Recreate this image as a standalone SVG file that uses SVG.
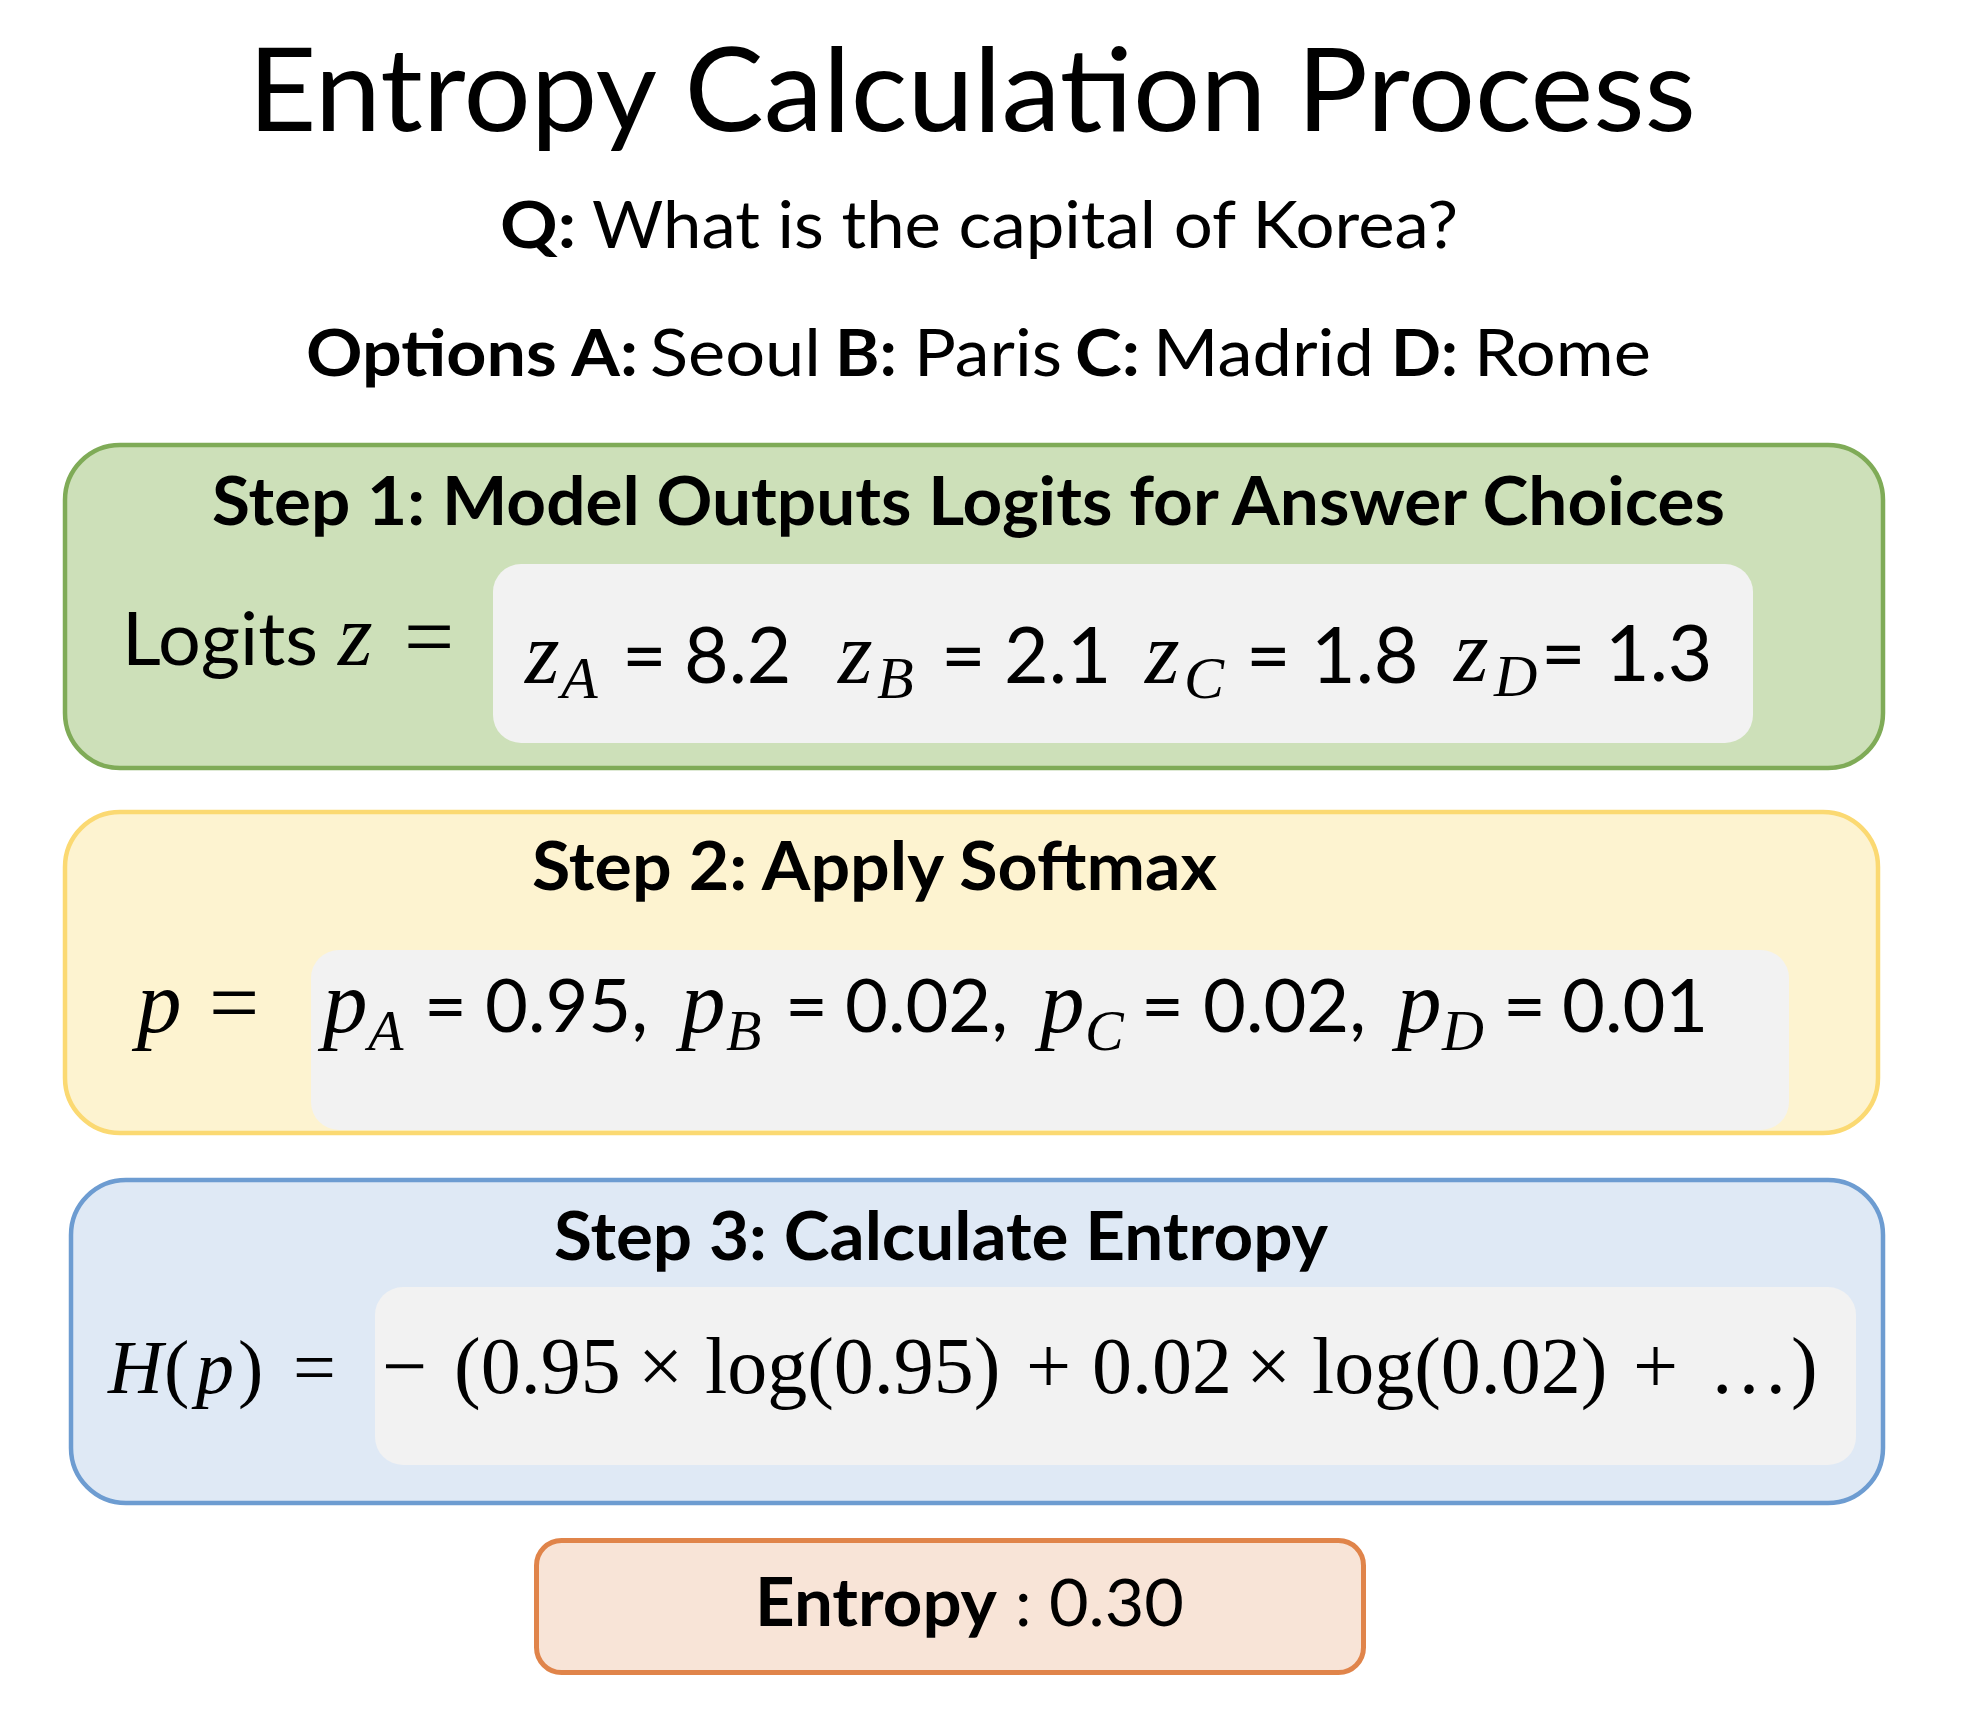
<svg xmlns="http://www.w3.org/2000/svg" width="1972" height="1728" viewBox="0 0 1972 1728">
<style>
.sans{font-family:Lato,"Liberation Sans",sans-serif;fill:#000}
.b{font-weight:700}
.m{font-family:"Liberation Serif","DejaVu Serif",serif;fill:#000}
.i{font-style:italic}
.gray{fill:#f2f2f2}
</style>
<rect width="1972" height="1728" fill="#fff"/>
<g id="header">
<text class="sans" x="248" y="131" font-size="116" textLength="1448" lengthAdjust="spacingAndGlyphs">Entropy Calculation Process</text>
<text class="sans b" x="500" y="248" font-size="65" textLength="76" lengthAdjust="spacingAndGlyphs">Q:</text>
<text class="sans" x="592" y="248" font-size="65" textLength="866" lengthAdjust="spacingAndGlyphs">What is the capital of Korea?</text>
<text class="sans b" x="306" y="376" font-size="65" textLength="332" lengthAdjust="spacingAndGlyphs">Options A:</text>
<text class="sans" x="650" y="376" font-size="65" textLength="171" lengthAdjust="spacingAndGlyphs">Seoul</text>
<text class="sans b" x="835" y="376" font-size="65" textLength="62" lengthAdjust="spacingAndGlyphs">B:</text>
<text class="sans" x="914" y="376" font-size="65" textLength="148" lengthAdjust="spacingAndGlyphs">Paris</text>
<text class="sans b" x="1075" y="376" font-size="65" textLength="65" lengthAdjust="spacingAndGlyphs">C:</text>
<text class="sans" x="1153" y="376" font-size="65" textLength="221" lengthAdjust="spacingAndGlyphs">Madrid</text>
<text class="sans b" x="1391" y="376" font-size="65" textLength="67" lengthAdjust="spacingAndGlyphs">D:</text>
<text class="sans" x="1474" y="376" font-size="65" textLength="177" lengthAdjust="spacingAndGlyphs">Rome</text>
</g>
<g id="connectors"></g>
<g id="step1">
<rect x="65" y="445" width="1818" height="323" rx="55" fill="#cde0b9" stroke="#7fab57" stroke-width="4.5"/>
<text class="sans b" x="212" y="525" font-size="66" textLength="1513" lengthAdjust="spacingAndGlyphs">Step 1: Model Outputs Logits for Answer Choices</text>
<rect class="gray" x="493" y="564" width="1260" height="179" rx="28"/>
<text class="sans" x="122" y="665" font-size="74" textLength="196" lengthAdjust="spacingAndGlyphs">Logits</text>
<text class="m" y="665" font-size="89"><tspan class="i" x="338">z</tspan><tspan x="404" y="666">=</tspan></text>
<text class="m i"><tspan x="525" y="683" font-size="89">z</tspan><tspan x="561" y="698" font-size="60">A</tspan></text>
<text class="m i"><tspan x="838" y="683" font-size="89">z</tspan><tspan x="877" y="698" font-size="60">B</tspan></text>
<text class="m i"><tspan x="1145" y="683" font-size="89">z</tspan><tspan x="1184" y="698" font-size="60">C</tspan></text>
<text class="m i"><tspan x="1454" y="681" font-size="89">z</tspan><tspan x="1494" y="696" font-size="60">D</tspan></text>
<g font-size="77">
<text class="sans" y="683"><tspan x="622">=</tspan><tspan x="684">8.2</tspan></text>
<text class="sans" y="683"><tspan x="941">=</tspan><tspan x="1004">2.1</tspan></text>
<text class="sans" y="683"><tspan x="1246">=</tspan><tspan x="1311">1.8</tspan></text>
<text class="sans" y="681"><tspan x="1541">=</tspan><tspan x="1605">1.3</tspan></text>
</g>
</g>
<g id="step2">
<rect x="65" y="812" width="1813" height="321" rx="55" fill="#fdf3d0" stroke="#fbd972" stroke-width="4.5"/>
<text class="sans b" x="532" y="890" font-size="66" textLength="685" lengthAdjust="spacingAndGlyphs">Step 2: Apply Softmax</text>
<rect class="gray" x="311" y="950" width="1478" height="180" rx="28"/>
<text class="m" y="1032" font-size="89"><tspan class="i" x="137">p</tspan><tspan x="209">=</tspan></text>
<text class="m i"><tspan x="323" y="1032" font-size="89">p</tspan><tspan x="368" y="1050" font-size="58">A</tspan></text>
<text class="m i"><tspan x="681" y="1032" font-size="89">p</tspan><tspan x="726" y="1050" font-size="58">B</tspan></text>
<text class="m i"><tspan x="1040" y="1032" font-size="89">p</tspan><tspan x="1085" y="1050" font-size="58">C</tspan></text>
<text class="m i"><tspan x="1397" y="1032" font-size="89">p</tspan><tspan x="1442" y="1050" font-size="58">D</tspan></text>
<g font-size="74">
<text class="sans" y="1032"><tspan x="424">=</tspan><tspan x="485">0.95,</tspan></text>
<text class="sans" y="1032"><tspan x="785">=</tspan><tspan x="845">0.02,</tspan></text>
<text class="sans" y="1032"><tspan x="1141">=</tspan><tspan x="1203">0.02,</tspan></text>
<text class="sans" y="1032"><tspan x="1503">=</tspan><tspan x="1562">0.01</tspan></text>
</g>
</g>
<g id="step3">
<rect x="71" y="1180" width="1812" height="323" rx="55" fill="#dfe9f5" stroke="#6d9cd1" stroke-width="4.5"/>
<text class="sans b" x="554" y="1260" font-size="66" textLength="774" lengthAdjust="spacingAndGlyphs">Step 3: Calculate Entropy</text>
<rect class="gray" x="375" y="1287" width="1481" height="178" rx="28"/>
<text class="m" y="1393" font-size="76"><tspan class="i" x="108">H</tspan><tspan x="164">(</tspan><tspan class="i" x="196">p</tspan><tspan x="238">)</tspan><tspan x="293">=</tspan></text>
<text class="m" y="1393" font-size="80"><tspan x="382">−</tspan><tspan x="454">(0.95</tspan><tspan x="638">×</tspan><tspan x="705">log(0.95)</tspan><tspan x="1026">+</tspan><tspan x="1092">0.02</tspan><tspan x="1246">×</tspan><tspan x="1312">log(0.02)</tspan><tspan x="1633">+</tspan><tspan x="1709">…</tspan><tspan x="1791">)</tspan></text>
</g>
<g id="result">
<rect x="536.5" y="1540.5" width="827" height="132" rx="25" fill="#f8e4d7" stroke="#e0844a" stroke-width="5"/>
<text class="sans" y="1626" font-size="66"><tspan class="b" x="755" textLength="242" lengthAdjust="spacingAndGlyphs">Entropy</tspan><tspan x="1015">:</tspan><tspan x="1049" textLength="135" lengthAdjust="spacingAndGlyphs">0.30</tspan></text>
</g>
</svg>
